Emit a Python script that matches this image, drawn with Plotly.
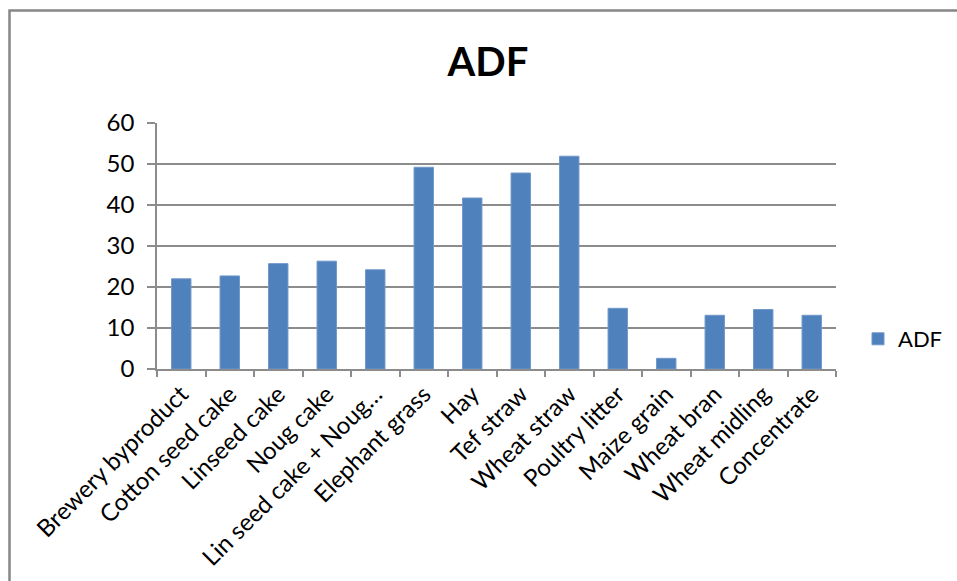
import plotly.graph_objects as go

categories = [
    "Brewery byproduct", "Cotton seed cake", "Linseed cake", "Noug cake",
    "Lin seed cake + Noug…", "Elephant grass", "Hay", "Tef straw",
    "Wheat straw", "Poultry litter", "Maize grain", "Wheat bran",
    "Wheat midling", "Concentrate",
]
adf = [22.0, 22.7, 25.7, 26.3, 24.2, 49.2, 41.7, 47.8, 51.9, 14.8, 2.6, 13.1, 14.5, 13.1]
y_ticks = [0, 10, 20, 30, 40, 50, 60]

W, H = 957, 581
L, R, T, B = 157, 121, 123, 212
pw, ph = W - L - R, H - T - B

FONT = "Lato"
GRID = "#8c8c8c"

fig = go.Figure()
fig.add_trace(go.Bar(
    x=categories, y=adf, name="ADF",
    marker=dict(color="#4F81BD", line=dict(color="#6F97C8", width=1)),
))

fig.update_layout(
    width=W, height=H,
    margin=dict(l=L, r=R, t=T, b=B, autoexpand=False),
    paper_bgcolor="white", plot_bgcolor="white",
    font=dict(family=FONT, color="black", size=22),
    bargap=0.6,
    title=dict(text="<b>ADF</b>", x=488 / W, xanchor="center",
               y=1 - 62 / H, yanchor="middle",
               font=dict(family=FONT, size=40, color="black")),
    showlegend=True,
    legend=dict(x=(858 - L) / pw, y=(369 - 339) / ph, xanchor="left", yanchor="middle",
                font=dict(size=22), bgcolor="rgba(0,0,0,0)", itemwidth=30),
    xaxis=dict(
        type="category", tickangle=-45, tickson="boundaries", automargin=False,
        ticks="outside", ticklen=6, tickcolor=GRID, tickwidth=1.5,
        showline=True, linecolor=GRID, linewidth=1.5,
        showgrid=False, tickfont=dict(size=24),
    ),
    yaxis=dict(
        range=[0, 60], tickvals=y_ticks, ticks="outside", ticklen=8, automargin=False,
        tickcolor=GRID, tickwidth=1.5, showline=True, linecolor=GRID, linewidth=1.5,
        showgrid=True, gridcolor=GRID, gridwidth=1.5, zeroline=False,
        tickfont=dict(size=24), ticklabelstandoff=8,
    ),
    shapes=[dict(
        type="rect", xref="paper", yref="paper",
        x0=(9.5 - L) / pw, x1=(W + 20 - L) / pw,
        y0=(H - B - (H + 20)) / ph, y1=(H - B - 10.5) / ph,
        line=dict(color="#868686", width=2.5), fillcolor="rgba(0,0,0,0)",
        layer="below",
    )],
)

fig.write_html("out.html")
